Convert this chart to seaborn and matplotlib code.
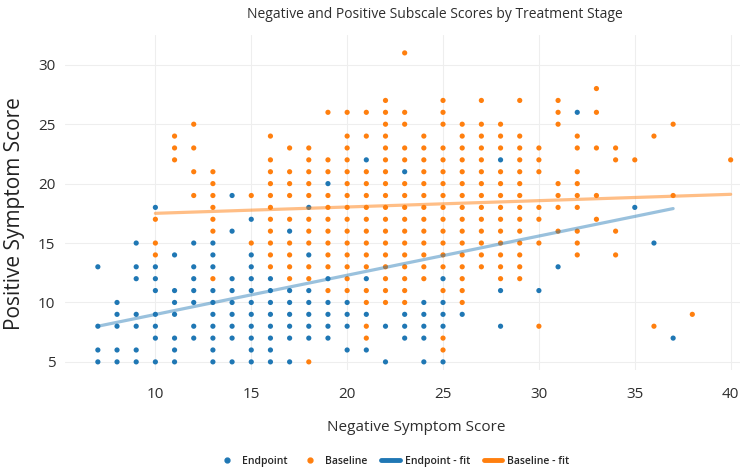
import numpy as np
import pandas as pd
import seaborn as sns
import matplotlib.pyplot as plt
from matplotlib.lines import Line2D

# negative score columns and the positive scores seen at each one
endpoint_x = [7, 8, 9, 10, 11, 12, 13, 14, 15, 16, 17, 18, 19, 20, 21, 22,
              23, 24, 25, 26, 28, 30, 31, 32, 35, 36, 37]
endpoint_y = [
    [13, 8, 6, 5],
    [10, 9, 8, 6, 5],
    [15, 13, 12, 9, 8, 6, 5],
    [18, 13, 12, 11, 9, 8, 7, 5],
    [14, 11, 10, 9, 7, 6, 5],
    [15, 13, 12, 11, 10, 8, 7],
    [15, 14, 13, 11, 10, 9, 8, 7, 6, 5],
    [19, 16, 12, 11, 10, 9, 8, 7, 5],
    [17, 14, 13, 12, 11, 10, 9, 8, 7, 6, 5],
    [12, 11, 10, 9, 8, 7, 6, 5],
    [16, 11, 10, 9, 8, 7, 5],
    [18, 14, 11, 10, 9, 8, 7],
    [20, 12, 10, 9, 8, 7],
    [10, 9, 8, 6],
    [22, 12, 9, 6],
    [8, 5],
    [21, 9, 8, 7],
    [10, 9, 8, 7, 5],
    [12, 10, 9, 8, 5],
    [9],
    [22, 11, 8],
    [11],
    [13],
    [26],
    [18],
    [15],
    [7],
]

baseline_x = [10, 11, 12, 13, 15, 16, 17, 18, 19, 20, 21, 22, 23, 24, 25, 26,
              27, 28, 29, 30, 31, 32, 33, 34, 35, 36, 37, 38, 40]
baseline_y = [
    [17, 15, 14],
    [24, 23, 22],
    [25, 23, 21, 19],
    [21, 20, 19, 18, 17, 16, 12],
    [19, 15],
    [24, 22, 21, 20, 19, 18, 17, 16, 15, 14, 13],
    [23, 21, 20, 19, 17, 15, 14, 13, 12],
    [23, 22, 21, 20, 19, 17, 16, 15, 13, 12, 5],
    [26, 22, 21, 19, 18, 17, 16, 15, 14, 13, 11],
    [26, 24, 23, 22, 21, 20, 19, 18, 17, 16, 15, 14, 13, 12, 11],
    [26, 24, 21, 20, 19, 18, 17, 16, 15, 14, 13, 11, 10, 8, 7],
    [27, 26, 25, 24, 23, 22, 21, 20, 19, 18, 17, 16, 15, 14, 13, 12, 11, 10],
    [31, 26, 25, 23, 22, 20, 19, 18, 17, 16, 15, 14, 13, 12, 11, 10],
    [24, 23, 22, 21, 20, 19, 18, 17, 16, 15, 14, 13, 12],
    [27, 26, 25, 23, 22, 21, 20, 19, 18, 17, 16, 15, 14, 13, 11, 7, 6],
    [25, 24, 23, 22, 21, 20, 19, 18, 17, 16, 15, 14, 13, 12, 11, 10],
    [27, 25, 24, 23, 22, 21, 20, 19, 18, 17, 16, 15, 14, 13],
    [25, 24, 23, 21, 20, 19, 18, 17, 16, 15, 14, 13, 12],
    [27, 24, 23, 22, 21, 20, 19, 18, 17, 16, 15, 14, 13, 12],
    [23, 22, 21, 18, 17, 15, 8],
    [27, 26, 25, 20, 19, 18, 16],
    [24, 23, 21, 20, 19, 18, 16, 15, 14],
    [28, 26, 23, 19, 17],
    [23, 22, 16, 14],
    [22],
    [24, 8],
    [25, 19],
    [9],
    [22],
]

# fit lines
endpoint_fit_x = [7, 37]
endpoint_fit_y = [8.0, 17.9]
baseline_fit_x = [10, 40]
baseline_fit_y = [17.5, 19.1]

blue = '#1f77b4'
orange = '#ff7f0e'
text_col = '#2e2e2e'


def expand(xs, ys, stage):
    rows = [(x, y) for x, col in zip(xs, ys) for y in col]
    d = pd.DataFrame(rows, columns=['neg', 'pos'])
    d['stage'] = stage
    return d


df = pd.concat([expand(endpoint_x, endpoint_y, 'Endpoint'),
                expand(baseline_x, baseline_y, 'Baseline')])

sns.set_style('white')
plt.rcParams['font.family'] = ['Open Sans', 'DejaVu Sans']

fig = plt.figure(figsize=(7.5, 4.74), dpi=100)
ax = fig.add_axes([0.087, 0.219, 0.9, 0.707])

sns.scatterplot(data=df, x='neg', y='pos', hue='stage',
                palette={'Endpoint': blue, 'Baseline': orange},
                s=14, linewidth=0, legend=False, ax=ax, zorder=3)
sns.lineplot(x=endpoint_fit_x, y=endpoint_fit_y, color=blue, alpha=0.45,
             linewidth=2.3, ax=ax, zorder=4)
sns.lineplot(x=baseline_fit_x, y=baseline_fit_y, color=orange, alpha=0.5,
             linewidth=2.3, ax=ax, zorder=4)

ax.set_xlim(5.3, 40.5)
ax.set_ylim(4.3, 32.5)
ax.set_xticks([10, 15, 20, 25, 30, 35, 40])
ax.set_yticks([5, 10, 15, 20, 25, 30])
ax.grid(True, color='#eeeeee', linewidth=0.8)
ax.set_axisbelow(True)
for s in ax.spines.values():
    s.set_visible(False)
ax.tick_params(length=0, labelsize=11, labelcolor=text_col)
ax.tick_params(axis='x', pad=12)
ax.tick_params(axis='y', pad=7)

ax.set_xlabel('Negative Symptom Score', fontsize=11, color=text_col)
ax.xaxis.set_label_coords(0.52, -0.15)
ax.set_ylabel('Positive Symptom Score', fontsize=15, color='#222222')
ax.yaxis.set_label_coords(-0.059, 0.466)
ax.set_title('Negative and Positive Subscale Scores by Treatment Stage',
             fontsize=10, color=text_col, x=0.548, pad=12)

handles = [
    Line2D([], [], marker='o', linestyle='', color=blue, markersize=3.5),
    Line2D([], [], marker='o', linestyle='', color=orange, markersize=3.5),
    Line2D([], [], color=blue, linewidth=3.5),
    Line2D([], [], color=orange, linewidth=3.5),
]
labels = ['Endpoint', 'Baseline', 'Endpoint - fit', 'Baseline - fit']
fig.legend(handles, labels, loc='center', bbox_to_anchor=(0.525, 0.027),
           ncol=4, frameon=False, handlelength=1.8,
           columnspacing=1.3, handletextpad=0.5,
           prop={'weight': 'semibold', 'size': 7.5})

fig.savefig('out.png', dpi=100)
